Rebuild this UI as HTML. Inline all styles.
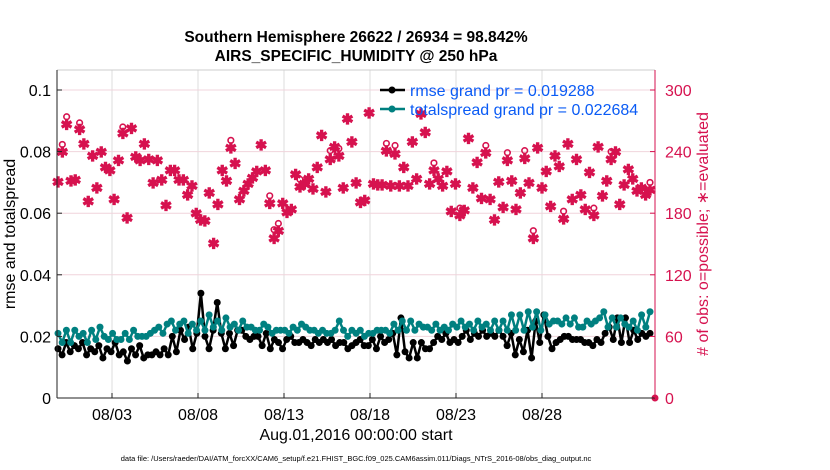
<!DOCTYPE html>
<html><head><meta charset="utf-8"><style>
body{margin:0;background:#fff;}
svg{display:block;font-family:"Liberation Sans",sans-serif;}
</style></head><body>
<svg id="chart" width="830" height="470">
<g id="grid"></g>
<g id="marks"></g>
<g id="axes"></g>
<text x="356" y="42" text-anchor="middle" font-weight="bold" font-size="15.5">Southern Hemisphere 26622 / 26934 = 98.842%</text>
<text x="356" y="61" text-anchor="middle" font-weight="bold" font-size="15.5">AIRS_SPECIFIC_HUMIDITY @ 250 hPa</text>
<text transform="translate(15,234) rotate(-90)" text-anchor="middle" font-size="16">rmse and totalspread</text>
<text transform="translate(708,234) rotate(-90)" text-anchor="middle" font-size="16" fill="#d6124f"># of obs: o=possible; ∗=evaluated</text>
<text x="356" y="440" text-anchor="middle" font-size="16">Aug.01,2016 00:00:00 start</text>
<text x="356" y="461" text-anchor="middle" font-size="7.5">data file: /Users/raeder/DAI/ATM_forcXX/CAM6_setup/f.e21.FHIST_BGC.f09_025.CAM6assim.011/Diags_NTrS_2016-08/obs_diag_output.nc</text>
<g>
<line x1="380" y1="90" x2="405" y2="90" stroke="#000" stroke-width="2.5"/><circle cx="392" cy="90" r="3.5" fill="#000"/>
<line x1="380" y1="109" x2="405" y2="109" stroke="#008080" stroke-width="2.5"/><circle cx="392" cy="109" r="3.5" fill="#008080"/>
<text x="410" y="96" font-size="16" fill="#0a5bf5">rmse grand pr = 0.019288</text>
<text x="410" y="115" font-size="16" fill="#0a5bf5">totalspread grand pr = 0.022684</text>
</g>
</svg>
<script>
const xTickLabels=["08/03","08/08","08/13","08/18","08/23","08/28"];
const xTickDays=[2,7,12,17,22,27];
const yLeftTicks=[0,0.02,0.04,0.06,0.08,0.1];
const yLeftLabels=["0","0.02","0.04","0.06","0.08","0.1"];
const yRightTicks=[0,60,120,180,240,300];
const rmse=[0.016,0.014,0.018,0.015,0.017,0.016,0.018,0.014,0.016,0.015,0.017,0.013,0.016,0.015,0.018,0.014,0.015,0.012,0.016,0.014,0.017,0.013,0.014,0.014,0.015,0.014,0.016,0.014,0.020,0.015,0.022,0.019,0.023,0.016,0.021,0.034,0.020,0.016,0.022,0.031,0.021,0.016,0.021,0.017,0.022,0.022,0.020,0.019,0.020,0.020,0.017,0.021,0.016,0.019,0.018,0.016,0.019,0.020,0.018,0.018,0.019,0.018,0.017,0.019,0.018,0.019,0.018,0.019,0.017,0.018,0.018,0.016,0.017,0.018,0.019,0.017,0.017,0.019,0.016,0.020,0.018,0.019,0.021,0.014,0.026,0.015,0.013,0.018,0.013,0.018,0.016,0.016,0.018,0.020,0.019,0.021,0.018,0.019,0.018,0.020,0.022,0.019,0.021,0.020,0.022,0.020,0.021,0.020,0.022,0.020,0.017,0.021,0.014,0.019,0.015,0.022,0.013,0.025,0.018,0.027,0.020,0.016,0.018,0.019,0.020,0.020,0.019,0.019,0.019,0.018,0.018,0.017,0.019,0.018,0.021,0.023,0.019,0.026,0.018,0.026,0.018,0.022,0.019,0.021,0.020,0.021];
const spread=[0.021,0.018,0.022,0.018,0.022,0.020,0.021,0.018,0.022,0.019,0.023,0.020,0.019,0.021,0.019,0.019,0.021,0.019,0.022,0.020,0.020,0.020,0.021,0.022,0.023,0.021,0.024,0.025,0.022,0.024,0.025,0.021,0.024,0.022,0.025,0.022,0.027,0.023,0.025,0.022,0.026,0.023,0.024,0.022,0.025,0.023,0.023,0.022,0.022,0.024,0.023,0.021,0.022,0.022,0.022,0.021,0.023,0.022,0.024,0.023,0.022,0.022,0.021,0.022,0.021,0.021,0.022,0.025,0.022,0.020,0.022,0.021,0.022,0.020,0.021,0.021,0.022,0.022,0.022,0.021,0.024,0.022,0.025,0.022,0.025,0.022,0.024,0.023,0.023,0.022,0.024,0.022,0.023,0.022,0.024,0.023,0.025,0.023,0.024,0.022,0.025,0.023,0.024,0.022,0.025,0.022,0.025,0.022,0.027,0.022,0.027,0.022,0.028,0.023,0.028,0.022,0.027,0.024,0.025,0.025,0.024,0.026,0.024,0.026,0.023,0.023,0.025,0.024,0.025,0.026,0.028,0.023,0.026,0.023,0.026,0.024,0.023,0.025,0.022,0.027,0.023,0.028];
const evaluated=[211,240,267,212,213,262,248,192,236,205,240,225,222,194,232,258,176,263,235,232,248,233,210,232,213,188,222,222,213,213,198,207,180,174,173,200,151,189,222,212,244,229,194,202,209,215,221,247,222,190,156,163,190,181,184,218,206,209,214,204,225,256,201,233,245,236,205,272,250,210,191,193,278,209,208,208,241,207,238,207,225,207,250,214,277,259,209,222,214,207,221,182,209,178,183,253,205,230,195,239,194,174,211,186,232,212,184,200,234,210,156,244,205,221,187,236,226,175,248,194,233,198,184,220,178,245,197,212,233,240,189,208,223,214,202,205,198,203];
const possibleExtra=[0,5,5,0,0,4,0,0,0,0,0,0,0,0,0,4,0,0,0,0,0,0,0,0,0,0,0,0,0,0,0,0,0,0,0,0,0,0,0,0,5,0,0,0,0,0,0,0,0,5,6,5,0,0,0,0,5,0,0,0,0,0,0,6,0,5,0,0,0,0,0,0,0,0,0,0,5,0,6,0,0,0,0,0,0,0,0,5,0,0,0,0,0,5,0,0,0,0,0,5,0,0,0,0,5,0,0,0,5,0,5,0,0,0,0,0,0,5,0,0,0,0,0,0,5,0,0,0,5,0,0,0,0,0,0,0,0,5];
const NS="http://www.w3.org/2000/svg";
const L=57,R=655,T=70,B=398;
const X0=58,X1=650;
function xDay(d){return 77.6+d*17.2;}
function xIdx(i,n){return X0+(X1-X0)*i/(n-1);}
function yL(v){return B-v*3080;}
function yR(v){return B-v*1.0267;}
function mk(tag,attrs,parent){const e=document.createElementNS(NS,tag);for(const k in attrs)e.setAttribute(k,attrs[k]);document.getElementById(parent).appendChild(e);return e;}
xTickDays.forEach((d,i)=>{
 const g=mk('line',{x1:xDay(d),x2:xDay(d),y1:T,y2:B,stroke:'#dcdcdc','stroke-width':1},'grid');
 
 
 const t=mk('line',{x1:xDay(d),x2:xDay(d),y1:B,y2:B-5,stroke:'#222'},'axes');
 
 
 const lb=mk('text',{x:xDay(d),y:B+22,'text-anchor':'middle','font-size':16},'axes');
 lb.textContent=xTickLabels[i];
 
 
});
yLeftTicks.forEach((v,i)=>{
 if(v>0){const g=mk('line',{x1:L,x2:R,y1:yL(v),y2:yL(v),stroke:'#f0d4dc','stroke-width':1},'grid');
 
 }
 const t=mk('line',{x1:L,x2:L+5,y1:yL(v),y2:yL(v),stroke:'#222'},'axes');
 
 
 const lb=mk('text',{x:L-6,y:yL(v)+6,'text-anchor':'end','font-size':16},'axes');
 lb.textContent=yLeftLabels[i];
 
 
});
yRightTicks.forEach(v=>{
 const t=mk('line',{x1:R-5,x2:R,y1:yR(v),y2:yR(v),stroke:'#d6124f'},'axes');
 
 
 const lb=mk('text',{x:R+10,y:yR(v)+6,'font-size':16,fill:'#d6124f'},'axes');
 lb.textContent=String(v);
 
 
});
[[L,T,R,T,'#ccc','top-border'],[L,T,L,B,'#222','left-axis'],[L,B,R,B,'#222','x-axis'],[R,T,R,B,'#d6124f','right-axis']].forEach(a=>{
 const l=mk('line',{x1:a[0],y1:a[1],x2:a[2],y2:a[3],stroke:a[4],'stroke-width':1},'axes');
 
 
});
evaluated.forEach((c,i)=>{
 const x=xIdx(i,evaluated.length);
 if(possibleExtra[i]>0){const o=mk('circle',{cx:x,cy:yR(c+possibleExtra[i])-2,r:2.8,fill:'none',stroke:'#d6124f','stroke-width':1.6},'marks');
 
 }
 const s=mk('text',{x:x,y:yR(c)+5.5,'text-anchor':'middle','font-size':14,'font-weight':'bold',fill:'#d6124f',stroke:'#d6124f','stroke-width':0.6},'marks');
 s.textContent='✱';
 
 
});
const z=mk('circle',{cx:R,cy:B,r:3.5,fill:'#d6124f'},'marks');


function series(arr,color,name){
 const n=arr.length;
 const p=mk('polyline',{points:arr.map((v,i)=>xIdx(i,n)+','+yL(v)).join(' '),fill:'none',stroke:color,'stroke-width':2.5,'stroke-linejoin':'round'},'marks');
 
 
 arr.forEach((v,i)=>{const c=mk('circle',{cx:xIdx(i,n),cy:yL(v),r:3.5,fill:color},'marks');
 
 });
}
series(rmse,'#000','rmse');
series(spread,'#008080','totalspread');
</script>
</body></html>
